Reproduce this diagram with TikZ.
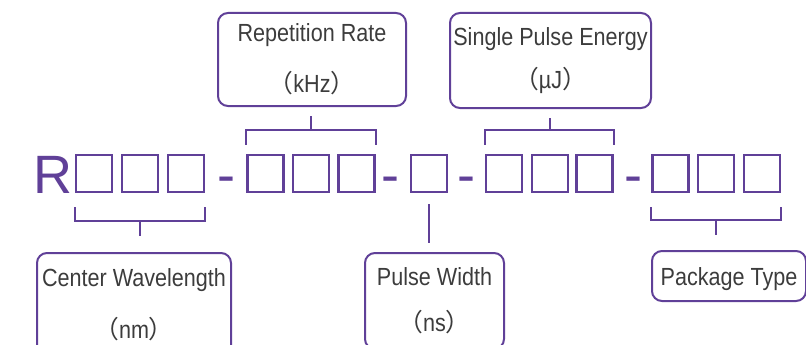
\documentclass[tikz,border=0pt]{standalone}
\usepackage{fontspec}
\setmainfont{Liberation Sans}
\newfontfamily\narrowfont[FakeStretch=0.87]{Liberation Sans}
\newfontfamily\cjk{Noto Sans CJK SC}
\definecolor{codepurple}{RGB}{96,64,152}
\definecolor{labelgray}{RGB}{60,60,60}

\begin{document}
\begin{tikzpicture}[x=1pt, y=-1pt,
    digit/.style={draw=codepurple, line width=2.5pt, minimum width=36pt, minimum height=37pt, inner sep=0pt},
    codechar/.style={text=codepurple, font=\fontsize{54}{60}\selectfont, inner sep=0pt, anchor=base},
    tag/.style={draw=codepurple, line width=2pt, rounded corners=10pt, text=labelgray, align=center, inner sep=0pt, font=\narrowfont\fontsize{24.8}{28}\selectfont},
    link/.style={draw=codepurple, line width=2pt}]
    \useasboundingbox (0,0) rectangle (806,345);

    % model code
    \node [codechar] (r) at (53,193) {R};
    \node [digit] (b1) at (94,173.5) {};
    \node [digit] (b2) at (140,173.5) {};
    \node [digit] (b3) at (186,173.5) {};
    \node [codechar] (d1) at (226,193) {-};
    \node [digit] (b4) at (265.5,173.5) {};
    \node [digit] (b5) at (311,173.5) {};
    \node [digit] (b6) at (356.5,173.5) {};
    \node [codechar] (d2) at (390.5,193) {-};
    \node [digit] (b7) at (429,173.5) {};
    \node [codechar] (d3) at (466.5,193) {-};
    \node [digit] (b8) at (504,173.5) {};
    \node [digit] (b9) at (550,173.5) {};
    \node [digit] (b10) at (594.5,173.5) {};
    \node [codechar] (d4) at (633.5,193) {-};
    \node [digit] (b11) at (670.5,173.5) {};
    \node [digit] (b12) at (716,173.5) {};
    \node [digit] (b13) at (762,173.5) {};

    % labels
    \node [tag, minimum width=188pt, minimum height=93pt] (rate) at (312,59.5) {Repetition Rate\\[23pt]{\cjk （}kHz{\cjk ）}};
    \node [tag, minimum width=201pt, minimum height=95pt] (energy) at (550.5,60.5) {Single Pulse Energy\\[15pt]{\cjk （}µJ{\cjk ）}};
    \node [tag, minimum width=194pt, minimum height=104pt] (wave) at (134,305) {Center Wavelength\\[24pt]{\cjk （}nm{\cjk ）}};
    \node [tag, minimum width=139pt, minimum height=96pt] (pulse) at (434.5,301) {Pulse Width\\[18pt]{\cjk （}ns{\cjk ）}};
    \node [tag, minimum width=154pt, minimum height=50pt, text height=22pt, text depth=4pt] (package) at (729,276) {Package Type};

    % brackets
    \draw [link] ([yshift=9pt]b4.north west) -- ++(0,-15) -| ([yshift=9pt]b6.north east);
    \draw [link] ([yshift=24pt]b5.north) -- ([yshift=-9pt]rate.south -| b5.north);
    \draw [link] ([yshift=9pt]b8.north west) -- ++(0,-15) -| ([yshift=9pt]b10.north east);
    \draw [link] ([yshift=24pt]b9.north) -- ([yshift=-9pt]energy.south -| b9.north);
    \draw [link] ([yshift=-14pt]b1.south west) -- ++(0,14) -| ([yshift=-14pt]b3.south east);
    \draw [link] ([yshift=-28pt]b2.south) -- ([yshift=16pt]wave.north -| b2.south);
    \draw [link] ([yshift=-11pt]b7.south) -- ([yshift=9pt]pulse.north -| b7.south);
    \draw [link] ([yshift=-14pt]b11.south west) -- ++(0,13) -| ([yshift=-14pt]b13.south east);
    \draw [link] ([yshift=-27pt]b12.south) -- ([yshift=15pt]package.north -| b12.south);
\end{tikzpicture}
\end{document}
